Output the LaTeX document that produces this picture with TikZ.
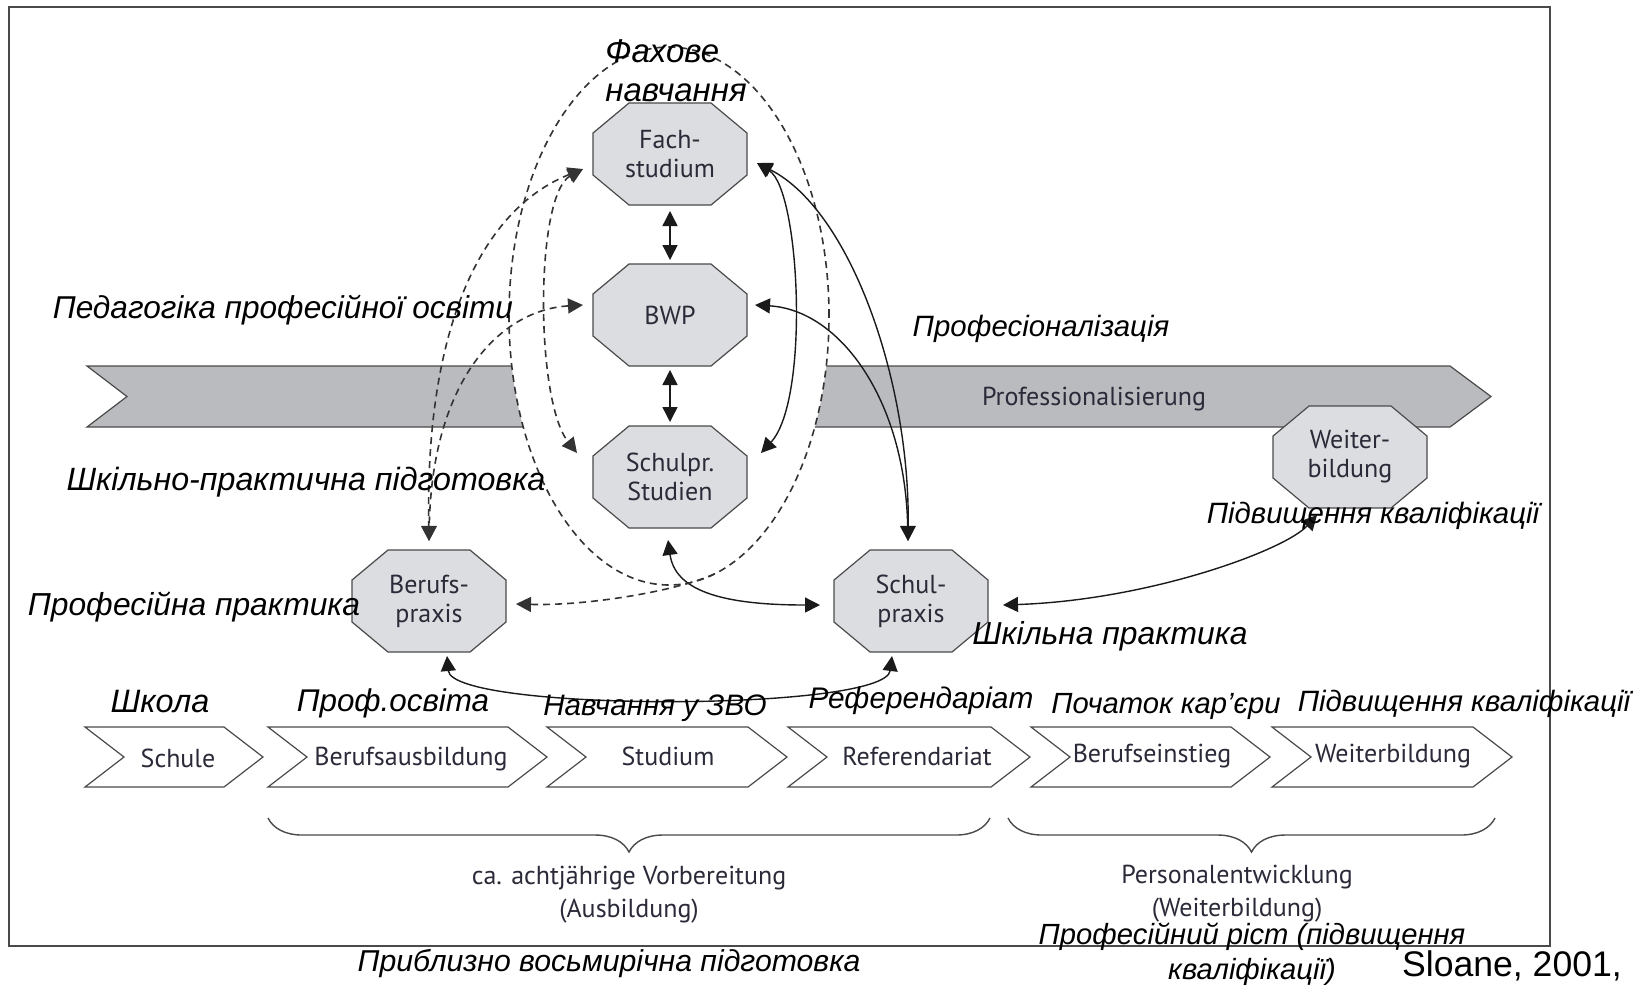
\documentclass[tikz,border=0pt]{standalone}
\usepackage{fontspec}
\setmainfont{Liberation Sans}
\newfontfamily\gfont{PT Sans}
\usetikzlibrary{arrows.meta,shapes.geometric,decorations.pathreplacing}
\pgfdeclarelayer{back}
\pgfdeclarelayer{octl}
\pgfsetlayers{back,octl,main}
\definecolor{octfill}{HTML}{DCDDE0}
\definecolor{bandfill}{HTML}{BABBBF}
\definecolor{edge}{HTML}{4A4A4A}
\definecolor{gtxt}{HTML}{2A2A38}
\definecolor{lin}{HTML}{1A1A1A}
\definecolor{dsh}{HTML}{333333}
\newcommand\myoctagon[1]{%
  \filldraw[octdraw] ([xshift=18pt]#1.north west) -- ([xshift=-18pt]#1.north east) -- ([yshift=-15pt]#1.north east) -- ([yshift=15pt]#1.south east) -- ([xshift=-18pt]#1.south east) -- ([xshift=18pt]#1.south west) -- ([yshift=15pt]#1.south west) -- ([yshift=-15pt]#1.north west) -- cycle;}
\newcommand\mychev[2]{%
  \filldraw[chevdraw] (#1,727) -- ({#2-39},727) -- (#2,757) -- ({#2-39},787) -- (#1,787) -- ({#1+39},757) -- cycle;}
\begin{document}
\begin{tikzpicture}[x=0.5pt,y=-0.5pt,
  >={Triangle[length=7.5pt,width=7.5pt]},
  framestyle/.style={draw=edge,line width=0.8pt},
  bandstyle/.style={fill=bandfill,draw=edge,line width=0.6pt},
  unistyle/.style={ellipse,fill=white,draw=dsh,line width=0.8pt,dash pattern=on 3.5pt off 2.5pt,minimum width=160pt,minimum height=269pt,inner sep=0pt,outer sep=0pt},
  octnode/.style={rectangle,minimum width=77pt,minimum height=51pt,inner sep=0pt,outer sep=0pt,align=center,font=\gfont\fontsize{13}{14.5}\selectfont,text=gtxt},
  octdraw/.style={fill=octfill,draw=edge,line width=0.6pt},
  chevdraw/.style={fill=white,draw=edge,line width=0.6pt},
  gtext/.style={font=\gfont\fontsize{13}{16.5}\selectfont,text=gtxt,inner sep=0pt,align=center},
  ukr/.style={font=\fontsize{#1}{19.5}\selectfont\itshape,inner sep=0pt,text=black},
  ukr/.default=15.5,
  solidcon/.style={draw=lin,line width=0.7pt},
  dashcon/.style={draw=dsh,line width=0.8pt,dash pattern=on 3.5pt off 2.5pt},
  bracestyle/.style={draw=edge,line width=0.7pt,decorate,decoration={brace,mirror,amplitude=17pt}}]
\useasboundingbox (0,0) rectangle (1641,987);
\draw[framestyle] (9,7) rectangle (1550,946);
\begin{pgfonlayer}{back}
\filldraw[bandstyle] (87,366) -- (1450,366) -- (1491,396.5) -- (1450,427) -- (87,427) -- (127,396.5) -- cycle;
\node[unistyle] (uni) at (669,316) {};
\end{pgfonlayer}
\node[gtext] (band) at (1094,399) {Professionalisierung};
% octagons
\node[octnode] (fach) at (670,154) {Fach-\\studium};
\node[octnode] (bwp) at (670,315) {BWP};
\node[octnode] (schulpr) at (670,477) {Schulpr.\\Studien};
\node[octnode] (berufsp) at (429,601) {Berufs-\\praxis};
\node[octnode] (schulp) at (911,601) {Schul-\\praxis};
\node[octnode] (weiter) at (1350,457) {Weiter-\\bildung};
\begin{pgfonlayer}{octl}
\myoctagon{fach}
\myoctagon{bwp}
\myoctagon{schulpr}
\myoctagon{berufsp}
\myoctagon{schulp}
\myoctagon{weiter}
\end{pgfonlayer}
% solid connectors
\draw[solidcon,<->] ([yshift=-3pt]fach.south) -- ([yshift=2pt]bwp.north);
\draw[solidcon,<->] ([yshift=-2pt]bwp.south) -- ([yshift=2pt]schulpr.north);
\draw[solidcon,<->] ([xshift=5pt,yshift=-4.5pt]fach.east) .. controls (800,190) and (810,400) .. ([xshift=7pt,yshift=12pt]schulpr.east);
\draw[solidcon,<->] ([xshift=5pt,yshift=-4.5pt]fach.east) .. controls (850,210) and (910,380) .. ([xshift=-1.5pt,yshift=4.5pt]schulp.north);
\draw[solidcon,<->] ([xshift=4pt,yshift=5pt]bwp.east) .. controls (840,310) and (905,400) .. ([xshift=-1.5pt,yshift=4.5pt]schulp.north);
\draw[solidcon,<->] ([xshift=-1pt,yshift=-6pt]schulpr.south) .. controls (675,590) and (720,605) .. ([xshift=-7pt,yshift=-2pt]schulp.west);
\draw[solidcon,<->] ([xshift=9pt,yshift=-2pt]berufsp.south) .. controls (452,712) and (885,712) .. ([xshift=-9.5pt,yshift=-2pt]schulp.south);
\draw[solidcon,<->] ([xshift=7.5pt,yshift=-2pt]schulp.east) .. controls (1150,600) and (1285,550) .. ([xshift=-16.5pt,yshift=-3.5pt]weiter.south);
% dashed connectors
\draw[dashcon,<->] ([xshift=-5pt,yshift=-7.5pt]fach.west) .. controls (480,210) and (425,330) .. ([yshift=4.5pt]berufsp.north);
\draw[dashcon,<->] ([xshift=-5pt,yshift=5pt]bwp.west) .. controls (500,310) and (432,380) .. ([yshift=4.5pt]berufsp.north);
\draw[dashcon,<->] ([xshift=-5pt,yshift=-7.5pt]fach.west) .. controls (535,195) and (535,400) .. ([xshift=-8pt,yshift=12pt]schulpr.west);
\draw[dashcon,->] (uni.-80) .. controls (680,590) and (590,606) .. ([xshift=5pt,yshift=-1.5pt]berufsp.east);
% chevrons
\mychev{85}{263}
\mychev{268}{547}
\mychev{547}{787}
\mychev{788}{1030}
\mychev{1031}{1270}
\mychev{1272}{1512}
\node[gtext] (c1) at (178,758) {Schule};
\node[gtext] (c2) at (411,759) {Berufsausbildung};
\node[gtext] (c3) at (668,756) {Studium};
\node[gtext] (c4) at (917,756) {Referendariat};
\node[gtext] (c5) at (1152,756) {Berufseinstieg};
\node[gtext] (c6) at (1393,756) {Weiterbildung};
% braces
\coordinate (b1s) at (268,818);
\coordinate (b1e) at (990,818);
\coordinate (b2s) at (1008,818);
\coordinate (b2e) at (1495,818);
\draw[bracestyle] (b1s) -- (b1e);
\draw[bracestyle] (b2s) -- (b2e);
\node[gtext] (br1) at (629,895) {ca. achtjährige Vorbereitung\\(Ausbildung)};
\node[gtext] (br2) at (1237,894) {Personalentwicklung\\(Weiterbildung)};
% Ukrainian labels
\node[ukr=16.5,align=left,anchor=west] (l1) at (605,71) {Фахове\\навчання};
\node[ukr=15.8] (l2) at (283,310) {Педагогіка професійної освіти};
\node[ukr=14.7] (l3) at (1041,329) {Професіоналізація};
\node[ukr=16.1] (l4) at (306,482) {Шкільно-практична підготовка};
\node[ukr=15.9] (l5) at (194,607) {Професійна практика};
\node[ukr=15.9] (l6) at (1110,636) {Шкільна практика};
\node[ukr=14.7] (l7) at (1373,516) {Підвищення кваліфікації};
\node[ukr=16.2] (r1) at (160,701) {Школа};
\node[ukr=15.7] (r2) at (393,703) {Проф.освіта};
\node[ukr=14.8] (r3) at (655,708) {Навчання у ЗВО};
\node[ukr=14.9] (r4) at (921,701) {Референдаріат};
\node[ukr=14.6] (r5) at (1166,706) {Початок кар'єри};
\node[ukr=14.7] (r6) at (1464,704) {Підвищення кваліфікації};
\node[ukr=15.1] (f1) at (609,964) {Приблизно восьмирічна підготовка};
\node[ukr,align=center,font=\fontsize{14.6}{17.5}\selectfont\itshape] (f2) at (1252,954) {Професійний ріст (підвищення\\кваліфікації)};
\node[inner sep=0pt,font=\fontsize{17.8}{20}\selectfont] (src) at (1512,966) {Sloane, 2001,};
\end{tikzpicture}
\end{document}
